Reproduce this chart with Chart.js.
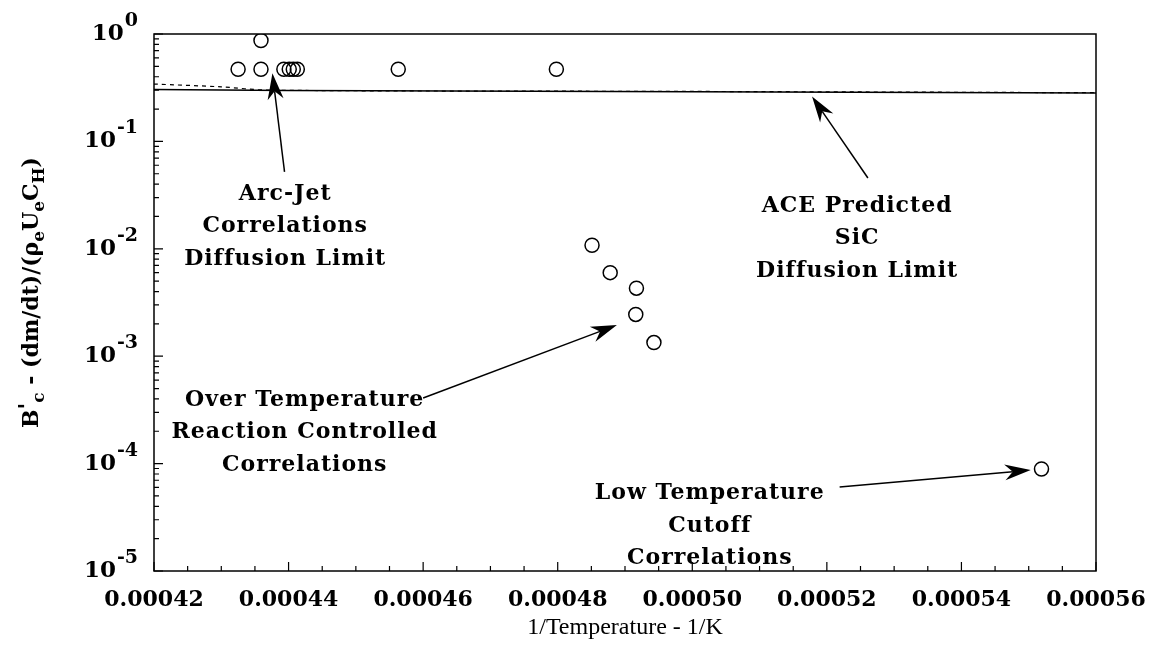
<!DOCTYPE html>
<html>
<head>
<meta charset="utf-8">
<script src="https://cdn.jsdelivr.net/npm/chart.js@4.4.1/dist/chart.umd.min.js"></script>
<style>
  html, body { margin: 0; padding: 0; background: #fff; }
  #wrap { width: 1164px; height: 660px; }
</style>
</head>
<body>
<div id="wrap"><canvas id="bc-chart"></canvas></div>
<script>
// B'c measurements against inverse temperature, grouped by regime
var arcJetX = [0.0004325, 0.0004359, 0.0004359, 0.0004393, 0.0004401, 0.0004407, 0.0004413, 0.0004563, 0.0004798];
var arcJetY = [0.47, 0.87, 0.47, 0.47, 0.47, 0.47, 0.47, 0.47, 0.47];

var overTempX = [0.0004851, 0.0004878, 0.0004917, 0.0004916, 0.0004943];
var overTempY = [0.0108, 0.0060, 0.0043, 0.00245, 0.00134];

var lowTempX = [0.0005519];
var lowTempY = [0.000089];

// ACE predicted SiC diffusion limit (solid) and arc-jet diffusion limit (dashed)
var aceLimitX = [0.00042, 0.00044, 0.00050, 0.00056];
var aceLimitY = [0.305, 0.298, 0.290, 0.282];
var arcLimitX = [0.00042, 0.00043, 0.000437, 0.00050, 0.00056];
var arcLimitY = [0.342, 0.322, 0.300, 0.292, 0.284];

var xTickMin = 0.00042, xTickMax = 0.00056, xTickStep = 0.00002;
var yDecades = [0, -1, -2, -3, -4, -5];

// callouts: label lines, label anchor, arrow tail and tip (data units)
var callouts = [
  { lines: ['Arc-Jet', 'Correlations', 'Diffusion Limit'], at: [0.0004395, 0.0322], from: [0.0004394, 0.052], to: [0.0004376, 0.43] },
  { lines: ['ACE Predicted', 'SiC', 'Diffusion Limit'], at: [0.0005245, 0.0250], from: [0.0005261, 0.0456], to: [0.0005178, 0.262] },
  { lines: ['Over Temperature', 'Reaction Controlled', 'Correlations'], at: [0.0004424, 0.000391], from: [0.00046, 0.000408], to: [0.0004888, 0.00195] },
  { lines: ['Low Temperature', 'Cutoff', 'Correlations'], at: [0.0005026, 0.0000525], from: [0.0005219, 0.0000605], to: [0.0005503, 0.0000871] }
];

function pairs(xs, ys) {
  return xs.map(function (x, i) { return { x: x, y: ys[i] }; });
}

var serif = '"DejaVu Serif", serif';

// frame, inward ticks, y labels with exponents, y title with subscripts, callouts
var decorPlugin = {
  id: 'decor',
  afterDatasetsDraw: function (chart) {
    var ctx = chart.ctx, area = chart.chartArea;
    var xs = chart.scales.x, ys = chart.scales.y;
    ctx.save();
    ctx.strokeStyle = '#000';
    ctx.fillStyle = '#000';
    ctx.lineWidth = 1.5;
    ctx.strokeRect(area.left, area.top, area.right - area.left, area.bottom - area.top);

    // bottom ticks, pointing up into the plot
    ctx.lineWidth = 1.2;
    ctx.beginPath();
    for (var i = 0; i <= 28; i++) {
      var px = xs.getPixelForValue(xTickMin + i * xTickStep / 4);
      var len = (i % 4 === 0) ? 9 : 5;
      ctx.moveTo(px, area.bottom);
      ctx.lineTo(px, area.bottom - len);
    }
    // left ticks, log minor marks
    for (var d = -5; d <= 0; d++) {
      for (var m = 1; m <= 9; m++) {
        if (d === 0 && m > 1) break;
        var py = ys.getPixelForValue(m * Math.pow(10, d));
        var l = (m === 1) ? 9 : 5;
        ctx.moveTo(area.left, py);
        ctx.lineTo(area.left + l, py);
      }
    }
    ctx.stroke();

    // y tick labels 10^n
    ctx.textBaseline = 'middle';
    ctx.textAlign = 'right';
    yDecades.forEach(function (e) {
      var py = ys.getPixelForValue(Math.pow(10, e));
      var right = area.left - 16;
      ctx.font = 'bold 19px ' + serif;
      var sup = String(e);
      ctx.fillText(sup, right, py - 13);
      var w = ctx.measureText(sup).width;
      ctx.font = 'bold 23px ' + serif;
      ctx.fillText('10', right - w - 1, py);
    });

    // rotated y title with subscripts
    var parts = [
      ['B', 0], ["'", -2], ['c', 1], [' - (dm/dt)/(\u03c1', 0], ['e', 1], ['U', 0], ['e', 1], ['C', 0], ['H', 1], [')', 0]
    ];
    var mainFont = 'bold 22px ' + serif, subFont = 'bold 17px ' + serif;
    var total = 0;
    parts.forEach(function (p) {
      ctx.font = p[1] === 1 ? subFont : mainFont;
      total += ctx.measureText(p[0]).width;
    });
    ctx.translate(32, (area.top + area.bottom) / 2 - 10);
    ctx.rotate(-Math.PI / 2);
    ctx.textAlign = 'left';
    ctx.textBaseline = 'middle';
    var cx = -total / 2;
    parts.forEach(function (p) {
      ctx.font = p[1] === 1 ? subFont : mainFont;
      var dy = p[1] === 1 ? 8 : (p[1] === -2 ? -4 : 0);
      ctx.fillText(p[0], cx, dy);
      cx += ctx.measureText(p[0]).width;
    });
    ctx.setTransform(1, 0, 0, 1, 0, 0);

    // callout arrows and labels
    callouts.forEach(function (c) {
      var x0 = xs.getPixelForValue(c.from[0]), y0 = ys.getPixelForValue(c.from[1]);
      var x1 = xs.getPixelForValue(c.to[0]), y1 = ys.getPixelForValue(c.to[1]);
      var ang = Math.atan2(y1 - y0, x1 - x0);
      var headLen = 26, headHalf = 8, notch = 18;
      ctx.lineWidth = 1.5;
      ctx.beginPath();
      ctx.moveTo(x0, y0);
      ctx.lineTo(x1 - Math.cos(ang) * notch, y1 - Math.sin(ang) * notch);
      ctx.stroke();
      ctx.translate(x1, y1);
      ctx.rotate(ang);
      ctx.beginPath();
      ctx.moveTo(0, 0);
      ctx.lineTo(-headLen, -headHalf);
      ctx.lineTo(-notch, 0);
      ctx.lineTo(-headLen, headHalf);
      ctx.closePath();
      ctx.fill();
      ctx.setTransform(1, 0, 0, 1, 0, 0);

      var tx = xs.getPixelForValue(c.at[0]), ty = ys.getPixelForValue(c.at[1]);
      ctx.font = 'bold 22px ' + serif;
      ctx.letterSpacing = '1px';
      ctx.textAlign = 'center';
      ctx.textBaseline = 'middle';
      c.lines.forEach(function (s, k) {
        ctx.fillText(s, tx, ty + k * 32.5);
      });
      ctx.letterSpacing = '0px';
    });
    ctx.restore();
  }
};

var circleStyle = {
  showLine: false,
  pointRadius: 7,
  pointHoverRadius: 7,
  pointBorderWidth: 1.5,
  borderColor: '#000',
  pointBackgroundColor: 'rgba(0,0,0,0)'
};

new Chart(document.getElementById('bc-chart'), {
  type: 'scatter',
  data: {
    datasets: [
      Object.assign({ label: 'Arc-Jet', data: pairs(arcJetX, arcJetY) }, circleStyle),
      Object.assign({ label: 'Over Temperature', data: pairs(overTempX, overTempY) }, circleStyle),
      Object.assign({ label: 'Low Temperature', data: pairs(lowTempX, lowTempY) }, circleStyle),
      { label: 'ACE limit', data: pairs(aceLimitX, aceLimitY), showLine: true, borderColor: '#000', borderWidth: 1.5, pointRadius: 0, tension: 0 },
      { label: 'Arc-jet limit', data: pairs(arcLimitX, arcLimitY), showLine: true, borderColor: '#000', borderWidth: 1.2, borderDash: [4, 4], pointRadius: 0, tension: 0.3 }
    ]
  },
  options: {
    responsive: true,
    maintainAspectRatio: false,
    animation: false,
    layout: { padding: { top: 34, right: 68, left: 0, bottom: 0 } },
    plugins: {
      legend: { display: false },
      tooltip: { enabled: false }
    },
    scales: {
      x: {
        type: 'linear',
        min: xTickMin,
        max: xTickMax,
        grid: { display: false },
        border: { display: false },
        afterFit: function (scale) { scale.height = 89; },
        ticks: {
          stepSize: xTickStep,
          autoSkip: false,
          maxRotation: 0,
          padding: 8,
          color: '#000',
          font: { family: serif, size: 22, weight: 'bold' },
          callback: function (v) { return Number(v).toFixed(5); }
        },
        title: {
          display: true,
          text: '1/Temperature - 1/K',
          color: '#000',
          font: { family: '"Liberation Serif", serif', size: 24 },
          padding: { top: 0, bottom: 18 }
        }
      },
      y: {
        type: 'logarithmic',
        min: 0.00001,
        max: 1,
        grid: { display: false },
        border: { display: false },
        ticks: { display: false },
        afterFit: function (scale) { scale.width = 154; }
      }
    }
  },
  plugins: [decorPlugin]
});
</script>
</body>
</html>
